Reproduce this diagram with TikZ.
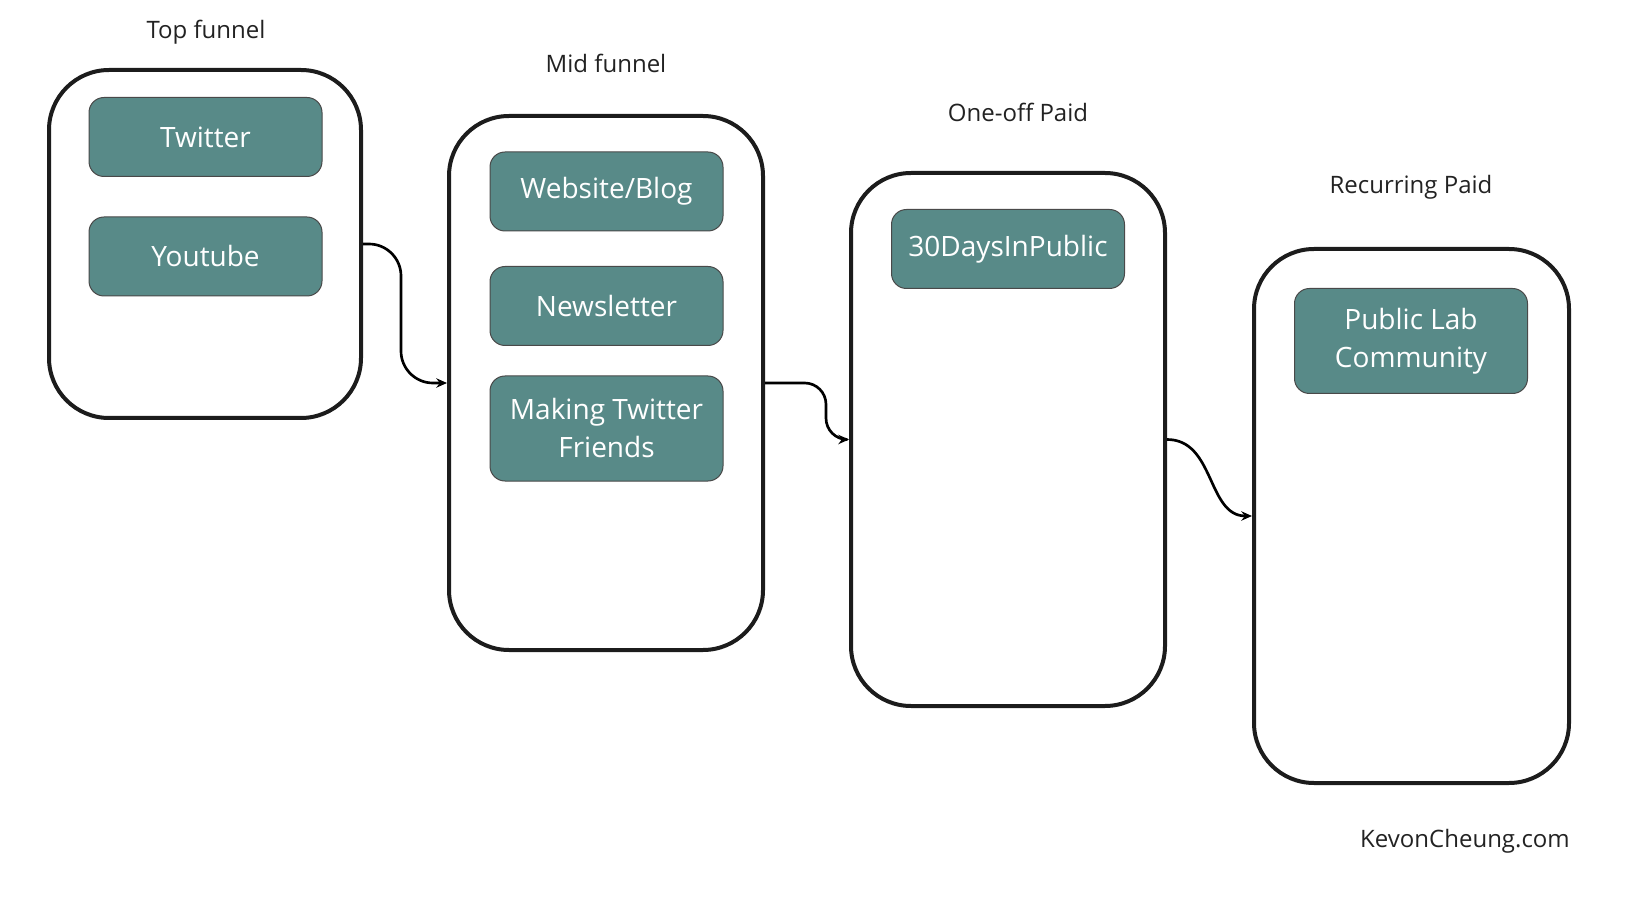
\documentclass[tikz,border=0pt]{standalone}
\usepackage{fontspec}
\setmainfont{Open Sans}
\usetikzlibrary{arrows.meta,calc}
\definecolor{tealbox}{HTML}{588A88}
\definecolor{inkdark}{HTML}{1C1C1C}
\definecolor{textdark}{HTML}{222222}
\tikzset{
  stage/.style={draw=inkdark, line width=3pt, rounded corners=45pt, fill=white, inner sep=0pt},
  item/.style={draw=inkdark!80, line width=0.75pt, rounded corners=11.25pt, fill=tealbox,
    text=white, font=\fontsize{21}{28.5}\selectfont, align=center,
    minimum width=174.75pt, inner sep=0pt},
  stagelabel/.style={text=textdark, font=\fontsize{18}{22}\selectfont, anchor=base, inner sep=0pt},
  flow/.style={draw=black, line width=2pt, -{Stealth[length=8pt,width=7pt]}},
}
\begin{document}
\begin{tikzpicture}[x=0.75pt,y=-0.75pt]
\useasboundingbox (0,0) rectangle (1628,898);
% stages
\node[stage, minimum width=234pt, minimum height=261pt] (top) at (205,244) {};
\node[stage, minimum width=235.5pt, minimum height=400.5pt] (mid) at (606,383) {};
\node[stage, minimum width=235.5pt, minimum height=399.75pt] (one) at (1008,439.5) {};
\node[stage, minimum width=236.25pt, minimum height=400.5pt] (rec) at (1411.5,516) {};
% labels
\node[stagelabel] (ltop) at (206,39) {Top funnel};
\node[stagelabel] (lmid) at (606,73) {Mid funnel};
\node[stagelabel] (lone) at (1018,122) {One-off Paid};
\node[stagelabel] (lrec) at (1411,194) {Recurring Paid};
\node[text=textdark, font=\fontsize{18}{22}\selectfont, anchor=base east, inner sep=0pt] (credit) at (1570,847) {KevonCheung.com};
% items
\node[item, minimum height=59.25pt] (twitter) at (205.5,137) {Twitter};
\node[item, minimum height=59.25pt] (youtube) at (205.5,256.5) {Youtube};
\node[item, minimum height=59.25pt] (web) at (606.5,191.5) {Website/Blog};
\node[item, minimum height=59.25pt] (news) at (606.5,306) {Newsletter};
\node[item, minimum height=78.75pt] (making) at (606.5,428.5) {Making Twitter\\Friends};
\node[item, minimum height=59.25pt] (days) at (1008,249) {30DaysInPublic};
\node[item, minimum height=78.75pt] (plc) at (1411,341) {Public Lab\\Community};
% connectors
\draw[flow, rounded corners=24pt] (top.east) -- ++(38,0) |- (mid.west);
\draw[flow, rounded corners=16pt] (mid.east) -- ++(61,0) |- (one.west);
\draw[flow] (one.east) .. controls ($(one.east)+(48,0)$) and ($(rec.west)+(-45,0)$) .. (rec.west);
\end{tikzpicture}
\end{document}
